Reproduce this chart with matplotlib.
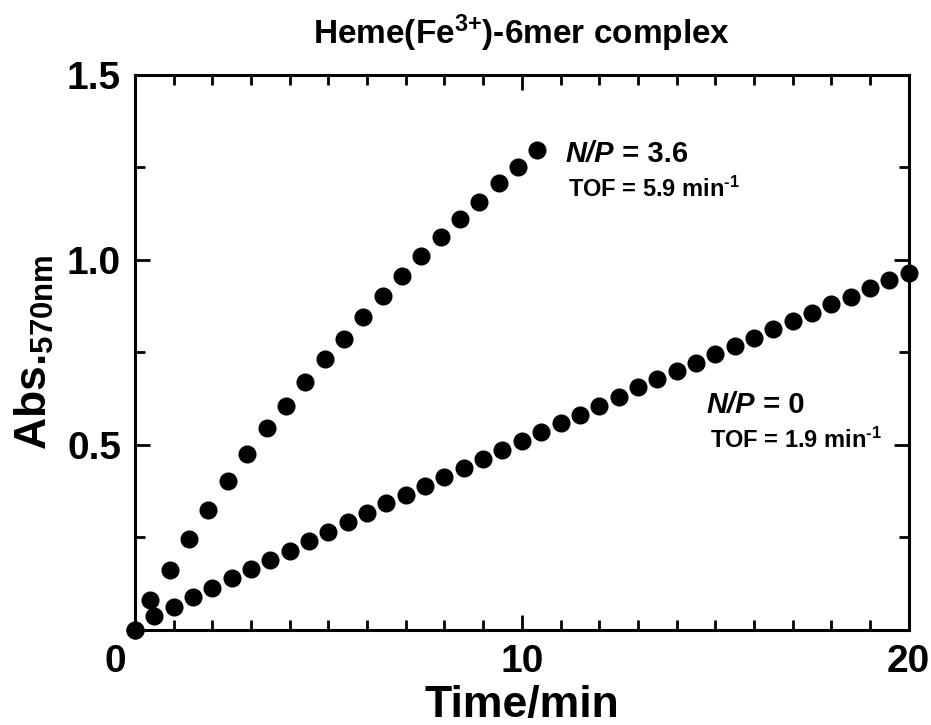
import matplotlib.pyplot as plt
import numpy as np
from matplotlib.ticker import MultipleLocator

plt.rcParams['font.family'] = ['Liberation Sans Narrow', 'Liberation Sans', 'DejaVu Sans']
plt.rcParams['font.weight'] = 'bold'
plt.rcParams['axes.labelweight'] = 'bold'
plt.rcParams['axes.titleweight'] = 'bold'

# N/P = 3.6 series
t_np36 = [0, 0.4, 0.9, 1.4, 1.9, 2.4, 2.9, 3.4, 3.9, 4.4, 4.9, 5.4, 5.9,
          6.4, 6.9, 7.4, 7.9, 8.4, 8.9, 9.4, 9.9, 10.4]
abs_np36 = [0, 0.081, 0.162, 0.246, 0.324, 0.403, 0.476, 0.546, 0.605, 0.670,
            0.732, 0.786, 0.846, 0.903, 0.957, 1.011, 1.062, 1.111, 1.157,
            1.208, 1.251, 1.297]

# N/P = 0 series
t_np0 = [0, 0.5, 1.0, 1.5, 2.0, 2.5, 3.0, 3.5, 4.0, 4.5, 5.0, 5.5, 6.0, 6.5,
         7.0, 7.5, 8.0, 8.5, 9.0, 9.5, 10.0, 10.5, 11.0, 11.5, 12.0, 12.5,
         13.0, 13.5, 14.0, 14.5, 15.0, 15.5, 16.0, 16.5, 17.0, 17.5, 18.0,
         18.5, 19.0, 19.5, 20.0]
abs_np0 = [0, 0.038, 0.062, 0.089, 0.114, 0.141, 0.165, 0.189, 0.214, 0.241,
           0.265, 0.292, 0.316, 0.343, 0.365, 0.389, 0.413, 0.438, 0.462,
           0.486, 0.511, 0.535, 0.559, 0.581, 0.605, 0.630, 0.657, 0.678,
           0.700, 0.722, 0.746, 0.768, 0.789, 0.814, 0.835, 0.857, 0.881,
           0.900, 0.924, 0.946, 0.965]

fig = plt.figure(figsize=(9.31, 7.25), dpi=100)
ax = fig.add_axes([0.145, 0.131, 0.831, 0.766])

ax.plot(t_np36, abs_np36, 'o', color='black', markersize=12, clip_on=False, zorder=5)
ax.plot(t_np0, abs_np0, 'o', color='black', markersize=12, clip_on=False, zorder=5)

ax.set_xlim(0, 20)
ax.set_ylim(0, 1.5)
ax.set_xticks([0, 10, 20])
ax.set_xticklabels(['', '10', '20'])
ax.set_yticks([0.5, 1.0, 1.5])
ax.xaxis.set_minor_locator(MultipleLocator(1))
ax.yaxis.set_minor_locator(MultipleLocator(0.25))
ax.tick_params(which='both', direction='in', top=True, right=True, width=2)
ax.tick_params(which='major', length=11, labelsize=28)
ax.tick_params(which='minor', length=7)
ax.tick_params(axis='x', pad=10)
ax.tick_params(axis='y', pad=10)
for s in ax.spines.values():
    s.set_linewidth(2.2)

# origin label sits left of the corner
ax.annotate('0', xy=(0, 0), xycoords='data', xytext=(-20, -14),
            textcoords='offset pixels', ha='center', va='top', fontsize=28,
            fontweight='bold')

ax.set_xlabel('Time/min', fontsize=32, labelpad=4)
ax.set_ylabel(r'Abs.$\mathregular{_{570nm}}$', fontsize=32, labelpad=8)
ax.set_title(r'Heme(Fe$\mathregular{^{3{+}}}$)-6mer complex', fontsize=24, pad=22)

# annotations
t1 = ax.text(11.14, 1.265, 'N/P', fontsize=21, style='italic', weight='bold', va='baseline')
ax.annotate(' = 3.6', xy=(1, 0), xycoords=t1, va='bottom', ha='left', fontsize=21,
            fontweight='bold')
ax.text(11.2, 1.170, 'TOF = 5.9 min$\\mathregular{^{\u2010 1}}$', fontsize=17,
        weight='bold', va='baseline')

t2 = ax.text(14.78, 0.586, 'N/P', fontsize=21, style='italic', weight='bold', va='baseline')
ax.annotate(' = 0', xy=(1, 0), xycoords=t2, va='bottom', ha='left', fontsize=21,
            fontweight='bold')
ax.text(14.86, 0.492, 'TOF = 1.9 min$\\mathregular{^{\u2010 1}}$', fontsize=17,
        weight='bold', va='baseline')

fig.savefig('out.png', dpi=100)
